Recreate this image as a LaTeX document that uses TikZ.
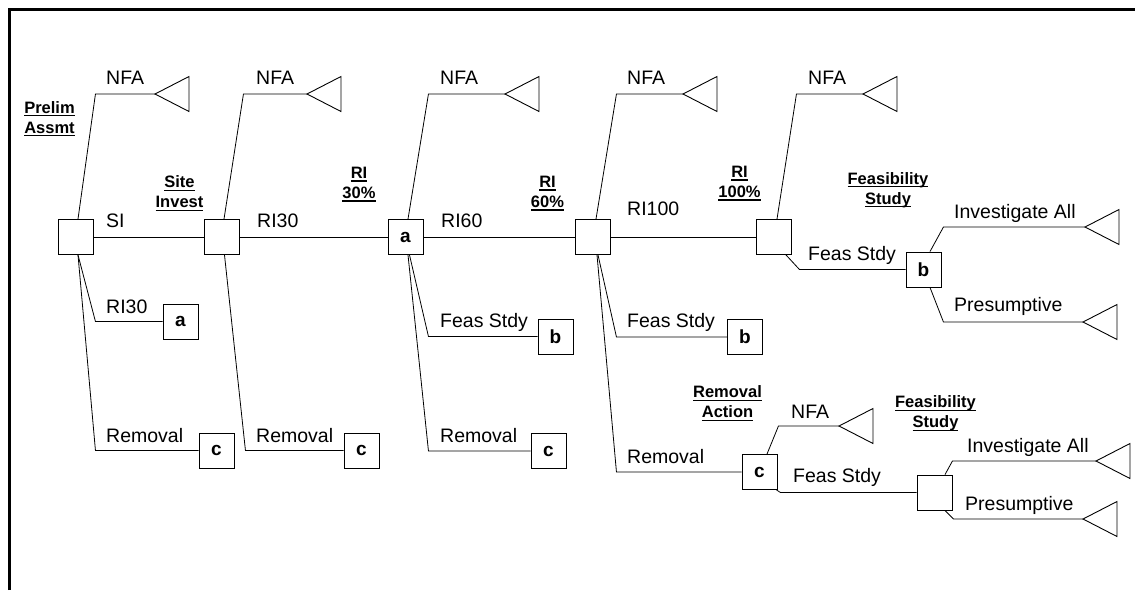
\documentclass[tikz,border=0pt]{standalone}
\usepackage{fontspec}
\setmainfont{Liberation Sans}
\tikzstyle{treeLine} = [line width=0.8pt]
\tikzstyle{frameLine} = [line width=3pt]
\tikzstyle{decisionBox} = [draw, line width=0.9pt, minimum size=35, inner sep=0, font=\fontsize{19}{19}\selectfont\bfseries]
\tikzstyle{terminalStyle} = [line width=0.9pt, line join=miter]
\tikzstyle{branchText} = [anchor=base west, inner sep=0, font=\fontsize{19.5}{23}\selectfont]
\tikzstyle{stageText} = [align=center, inner sep=0, font=\fontsize{16.5}{20}\selectfont\bfseries]
\newcommand{\stageWord}[1]{\setbox0\hbox{#1}\rlap{\rule[-3pt]{\wd0}{1.2pt}}\box0}
\newcommand{\terminal}[3]{\coordinate (#1) at (#2,#3); \draw [terminalStyle] (#1) -- ++(34,-17.5) -- ++(0,35) -- cycle;}
\newcommand{\branch}[5]{\draw [treeLine] ([xshift=#4]#1.#2) -- ([xshift=#5]#3 -| #1.east) -- (#3);}

\begin{document}
\begin{tikzpicture}[x=1pt, y=-1pt]
  \useasboundingbox (0,0) rectangle (1135,590);
  \draw [frameLine] (9.5,590) -- (9.5,9.5) -- (1135,9.5);

  % boxes
  \node [decisionBox] (prelimBox) at (75.5,237) {};
  \node [decisionBox] (siteBox) at (221.5,237) {};
  \node [decisionBox] (riThirtyBox) at (405.5,237) {a};
  \node [decisionBox] (riSixtyBox) at (593,237) {};
  \node [decisionBox] (riHundredBox) at (773.5,237) {};
  \node [decisionBox] (feasBox) at (923.5,269.5) {b};
  \node [decisionBox] (jumpA) at (180.5,321.5) {a};
  \node [decisionBox] (jumpCOne) at (216.5,450.5) {c};
  \node [decisionBox] (jumpCTwo) at (361.5,450.5) {c};
  \node [decisionBox] (jumpBOne) at (555.5,336.5) {b};
  \node [decisionBox] (jumpCThree) at (548.5,451) {c};
  \node [decisionBox] (jumpBTwo) at (745,337) {b};
  \node [decisionBox] (removalBox) at (759.5,472) {c};
  \node [decisionBox] (feasLowBox) at (934.5,492.5) {};

  % end points
  \terminal{nfaOne}{155}{94}
  \terminal{nfaTwo}{307}{94}
  \terminal{nfaThree}{505}{94}
  \terminal{nfaFour}{683}{94}
  \terminal{nfaFive}{863}{94}
  \terminal{investUp}{1085}{227}
  \terminal{presumeUp}{1083}{322}
  \terminal{nfaLow}{839}{426}
  \terminal{investLow}{1096}{461}
  \terminal{presumeLow}{1083}{519}

  % branches
  \branch{prelimBox}{north}{nfaOne}{2.5}{2}
  \branch{prelimBox}{south}{jumpA.west}{2.5}{2}
  \branch{prelimBox}{south}{jumpCOne.west}{2.5}{2}
  \draw [treeLine] (prelimBox) -- (siteBox);
  \branch{siteBox}{north}{nfaTwo}{2.5}{4}
  \branch{siteBox}{south}{jumpCTwo.west}{3}{6}
  \draw [treeLine] (siteBox) -- (riThirtyBox);
  \branch{riThirtyBox}{north}{nfaThree}{2.5}{5}
  \branch{riThirtyBox}{south}{jumpBOne.west}{4}{5}
  \branch{riThirtyBox}{south}{jumpCThree.west}{2.5}{5}
  \draw [treeLine] (riThirtyBox) -- (riSixtyBox);
  \branch{riSixtyBox}{north}{nfaFour}{3}{5.5}
  \branch{riSixtyBox}{south}{jumpBTwo.west}{5}{5.5}
  \branch{riSixtyBox}{south}{removalBox.west}{4}{5.5}
  \draw [treeLine] (riSixtyBox) -- (riHundredBox);
  \branch{riHundredBox}{north}{nfaFive}{3.5}{5}
  \branch{riHundredBox}{south}{feasBox.west}{12.5}{8}
  \branch{feasBox}{north}{investUp}{6.5}{2}
  \branch{feasBox}{south}{presumeUp}{6.5}{2}
  \branch{removalBox}{north}{nfaLow}{7.5}{1}
  \branch{removalBox}{south}{feasLowBox.west}{17}{3}
  \branch{feasLowBox}{north}{investLow}{10.5}{0}
  \branch{feasLowBox}{south}{presumeLow}{10.5}{1}

  % branch labels
  \node [branchText] (nfaOneText) at (106,84) {NFA};
  \node [branchText] (nfaTwoText) at (256,84) {NFA};
  \node [branchText] (nfaThreeText) at (440,84) {NFA};
  \node [branchText] (nfaFourText) at (627,84) {NFA};
  \node [branchText] (nfaFiveText) at (808,84) {NFA};
  \node [branchText] (nfaLowText) at (791,418) {NFA};
  \node [branchText] (siText) at (106,227) {SI};
  \node [branchText] (riThirtyText) at (257,227) {RI30};
  \node [branchText] (riSixtyText) at (441,227) {RI60};
  \node [branchText] (riHundredText) at (627,215) {RI100};
  \node [branchText] (jumpAText) at (106,313) {RI30};
  \node [branchText] (removalOneText) at (106,442) {Removal};
  \node [branchText] (removalTwoText) at (256,442) {Removal};
  \node [branchText] (removalThreeText) at (440,442) {Removal};
  \node [branchText] (removalFourText) at (627,463) {Removal};
  \node [branchText] (feasOneText) at (440,327) {Feas Stdy};
  \node [branchText] (feasTwoText) at (627,327) {Feas Stdy};
  \node [branchText] (feasThreeText) at (808,260) {Feas Stdy};
  \node [branchText] (feasLowText) at (793,482) {Feas Stdy};
  \node [branchText] (investUpText) at (954,218) {Investigate All};
  \node [branchText] (presumeUpText) at (954,311) {Presumptive};
  \node [branchText] (investLowText) at (967,452) {Investigate All};
  \node [branchText] (presumeLowText) at (965,510) {Presumptive};

  % stage headings
  \node [stageText] (prelimStage) at (49.5,119) {\stageWord{Prelim}\\\stageWord{Assmt}};
  \node [stageText] (siteStage) at (179.5,193.5) {\stageWord{Site}\\\stageWord{Invest}};
  \node [stageText] (riThirtyStage) at (359,184.5) {\stageWord{RI}\\\stageWord{30\%}};
  \node [stageText] (riSixtyStage) at (547.5,193.5) {\stageWord{RI}\\\stageWord{60\%}};
  \node [stageText] (riHundredStage) at (739.5,183.5) {\stageWord{RI}\\\stageWord{100\%}};
  \node [stageText] (feasStage) at (888,190) {\stageWord{Feasibility}\\\stageWord{Study}};
  \node [stageText] (removalStage) at (727.5,403.5) {\stageWord{Removal}\\\stageWord{Action}};
  \node [stageText] (feasLowStage) at (935.5,413.5) {\stageWord{Feasibility}\\\stageWord{Study}};
\end{tikzpicture}
\end{document}
